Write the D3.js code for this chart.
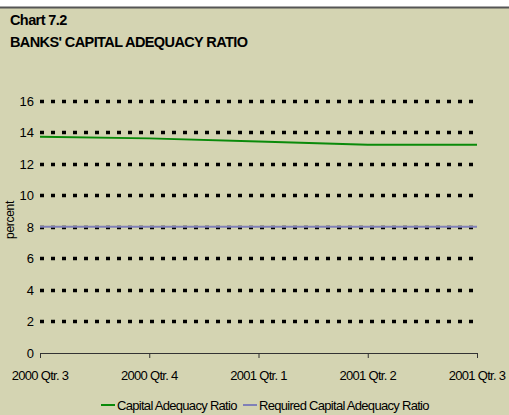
<html>
  <script src="https://d3js.org/d3.v7.min.js"></script>
  <body style="margin:0;background:#fff">
    <script>
      let quarters = ["2000 Qtr. 3", "2000 Qtr. 4", "2001 Qtr. 1", "2001 Qtr. 2", "2001 Qtr. 3"];
      let capitalRatio = [13.7, 13.6, 13.4, 13.2, 13.2];
      let requiredRatio = [8, 8, 8, 8, 8];
      let yTicks = [0, 2, 4, 6, 8, 10, 12, 14, 16];
      let seriesNames = ["Capital Adequacy Ratio", "Required Capital Adequacy Ratio"];
      let seriesColors = ["#0a8a0a", "#8080b8"];

      let width = 509;
      let height = 415;
      let svg = d3.select("body").append("svg")
                  .attr("width", width)
                  .attr("height", height)
                  .style("display", "block")
                  .style("font-family", "Liberation Sans, Arial, sans-serif");

      // background panel
      svg.append("rect").attr("x", 0).attr("y", 7).attr("width", width).attr("height", height - 7)
         .attr("fill", "#d4d4b2");
      svg.append("line").attr("x1", 0).attr("x2", width).attr("y1", 7.5).attr("y2", 7.5)
         .attr("stroke", "#555").attr("stroke-width", 2);

      // titles
      svg.append("text").attr("x", 10).attr("y", 25)
         .attr("font-size", 14.5).attr("font-weight", "bold").attr("letter-spacing", -0.6)
         .text("Chart 7.2");
      svg.append("text").attr("x", 10).attr("y", 47)
         .attr("font-size", 14.5).attr("font-weight", "bold").attr("letter-spacing", -0.6)
         .text("BANKS' CAPITAL ADEQUACY RATIO");

      let x = d3.scalePoint().domain(quarters).range([40, 477]);
      let y = d3.scaleLinear().domain([0, 16]).range([353, 100.5]);

      // dotted gridlines
      yTicks.filter(t => t > 0).forEach(t => {
        svg.append("line")
           .attr("x1", 40).attr("x2", 475)
           .attr("y1", Math.round(y(t)) + 0.5).attr("y2", Math.round(y(t)) + 0.5)
           .attr("stroke", "#000").attr("stroke-width", 3.5)
           .attr("stroke-dasharray", "4,7");
      });

      // y tick labels
      yTicks.forEach(t => {
        svg.append("text")
           .attr("x", 34).attr("y", y(t) + 5)
           .attr("text-anchor", "end").attr("font-size", 13)
           .text(t);
      });

      svg.append("text")
         .attr("transform", "translate(14,220) rotate(-90)")
         .attr("text-anchor", "middle").attr("font-size", 12).attr("letter-spacing", -0.3)
         .text("percent");

      // x axis
      svg.append("line").attr("x1", 40).attr("x2", 477)
         .attr("y1", 353.5).attr("y2", 353.5).attr("stroke", "#333").attr("stroke-width", 1);
      quarters.forEach(q => {
        svg.append("line").attr("x1", x(q) + 0.5).attr("x2", x(q) + 0.5)
           .attr("y1", 353).attr("y2", 358).attr("stroke", "#333");
        svg.append("text")
           .attr("x", x(q)).attr("y", 380)
           .attr("text-anchor", "middle").attr("font-size", 13).attr("letter-spacing", -0.7)
           .text(q);
      });

      // series lines
      let line = d3.line().x((d, i) => x(quarters[i])).y(d => y(d));
      svg.append("path").datum(requiredRatio).attr("d", line)
         .attr("fill", "none").attr("stroke", seriesColors[1]).attr("stroke-width", 2);
      svg.append("path").datum(capitalRatio).attr("d", line)
         .attr("fill", "none").attr("stroke", seriesColors[0]).attr("stroke-width", 2);

      // legend
      let legendX = [101, 243];
      seriesNames.forEach((name, i) => {
        svg.append("line").attr("x1", legendX[i]).attr("x2", legendX[i] + 14)
           .attr("y1", 405).attr("y2", 405)
           .attr("stroke", seriesColors[i]).attr("stroke-width", 2);
        svg.append("text").attr("x", legendX[i] + 16).attr("y", 410)
           .attr("font-size", 13).attr("letter-spacing", -0.7)
           .text(name);
      });
    </script>
  </body>
</html>
